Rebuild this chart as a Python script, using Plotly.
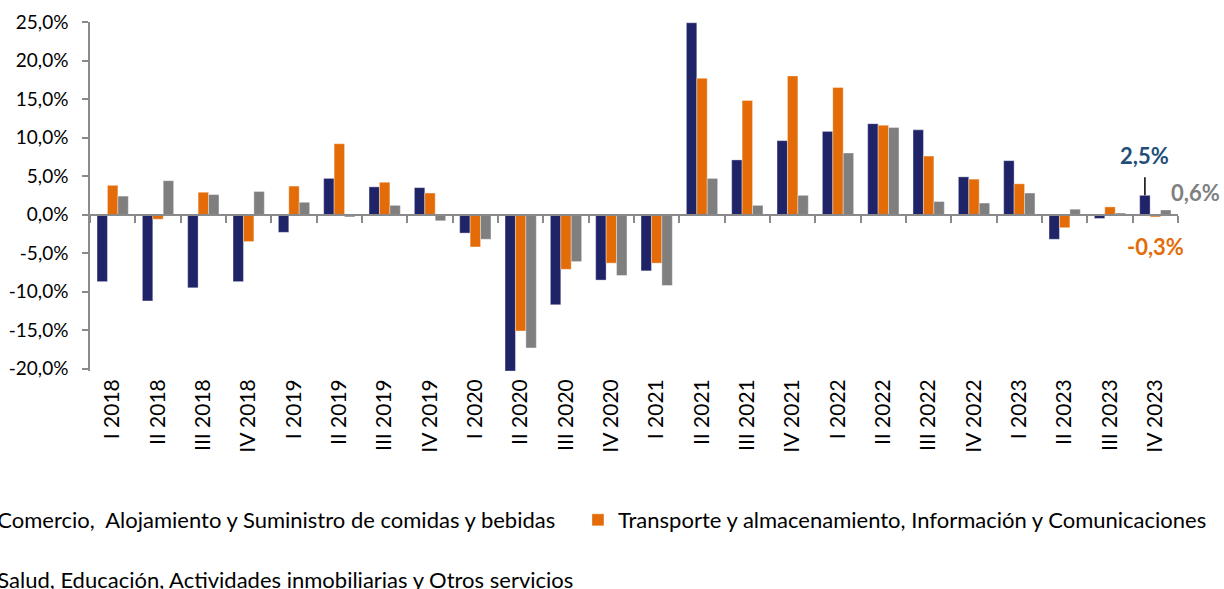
import plotly.graph_objects as go

quarters = ["I 2018", "II 2018", "III 2018", "IV 2018",
            "I 2019", "II 2019", "III 2019", "IV 2019",
            "I 2020", "II 2020", "III 2020", "IV 2020",
            "I 2021", "II 2021", "III 2021", "IV 2021",
            "I 2022", "II 2022", "III 2022", "IV 2022",
            "I 2023", "II 2023", "III 2023", "IV 2023"]

comercio = [-8.7, -11.2, -9.5, -8.7, -2.3, 4.7, 3.6, 3.5,
            -2.4, -20.3, -11.7, -8.5, -7.3, 24.9, 7.1, 9.6,
            10.8, 11.8, 11.0, 4.9, 7.0, -3.2, -0.5, 2.5]
transporte = [3.8, -0.6, 2.9, -3.5, 3.7, 9.2, 4.2, 2.8,
              -4.2, -15.1, -7.1, -6.3, -6.3, 17.7, 14.8, 18.0,
              16.5, 11.6, 7.6, 4.6, 4.0, -1.7, 1.0, -0.3]
salud = [2.4, 4.4, 2.6, 3.0, 1.6, -0.3, 1.2, -0.8,
         -3.2, -17.3, -6.1, -7.9, -9.2, 4.7, 1.2, 2.5,
         8.0, 11.3, 1.7, 1.5, 2.8, 0.7, 0.2, 0.6]

y_ticks = [-20, -15, -10, -5, 0, 5, 10, 15, 20, 25]

names = ["Comercio,  Alojamiento y Suministro de comidas y bebidas",
         "Transporte y almacenamiento, Información y Comunicaciones",
         "Salud, Educación, Actividades inmobiliarias y Otros servicios"]
colors = ["#1F2367", "#E36C09", "#7F7F7F"]
label_colors = ["#1F4E79", "#E36C09", "#7F7F7F"]

FONT = "Lato"
AXIS_COLOR = "#8A8A8A"
BARGAP = 0.31


def pct(v):
    return f"{v:.1f}".replace(".", ",") + "%"


fig = go.Figure()
series = [comercio, transporte, salud]
legend_ids = ["legend", "legend2", "legend3"]
for vals, name, col, lg in zip(series, names, colors, legend_ids):
    fig.add_trace(go.Bar(x=quarters, y=vals, name=name, legend=lg,
                         marker=dict(color=col, line=dict(color="rgba(255,255,255,0.6)", width=0.6))))

ymin, ymax = -20.3, 25
zero_pos = (0 - ymin) / (ymax - ymin)
xrange = [-0.5, len(quarters) - 0.5]

fig.update_layout(
    width=1224, height=589,
    margin=dict(l=90, r=46, t=22, b=218, autoexpand=False),
    plot_bgcolor="white", paper_bgcolor="white",
    barmode="group", bargap=BARGAP, bargroupgap=0,
    font=dict(family=FONT, size=19, color="#000000"),
    xaxis=dict(type="category", categoryarray=quarters, range=xrange, showline=False, ticks="",
               tickangle=-90, tickfont=dict(size=21), showgrid=False,
               ticklabelstandoff=3),
    xaxis2=dict(type="category", categoryarray=quarters, range=xrange, overlaying="x",
                anchor="free", position=zero_pos,
                showline=True, linecolor=AXIS_COLOR, linewidth=2,
                ticks="outside", ticklen=7, tickcolor=AXIS_COLOR, tickwidth=1.5,
                tickson="boundaries", showticklabels=False, showgrid=False),
    yaxis=dict(range=[ymin, ymax], tickvals=y_ticks, ticktext=[pct(v) for v in y_ticks],
               showgrid=False, zeroline=False,
               showline=True, linecolor=AXIS_COLOR, linewidth=1.5,
               ticks="outside", ticklen=6, tickcolor=AXIS_COLOR, tickwidth=1.5,
               tickfont=dict(size=19), ticklabelstandoff=10),
    legend=dict(x=-0.122, y=-0.427, xanchor="left", yanchor="middle",
                font=dict(size=22), bgcolor="rgba(0,0,0,0)"),
    legend2=dict(x=0.4485, y=-0.427, xanchor="left", yanchor="middle",
                 font=dict(size=22), bgcolor="rgba(0,0,0,0)"),
    legend3=dict(x=-0.122, y=-0.599, xanchor="left", yanchor="middle",
                 font=dict(size=22), bgcolor="rgba(0,0,0,0)"),
    showlegend=True,
)

# transparent helper trace so the zero-line axis has the categories
fig.add_trace(go.Bar(x=quarters, y=[0] * len(quarters), xaxis="x2", showlegend=False,
                     hoverinfo="skip", marker=dict(color="rgba(0,0,0,0)")))

# data labels for last quarter
last = len(quarters) - 1
off = (1 - BARGAP) / 3
fig.add_annotation(x=last - off, y=comercio[-1], xref="x", yref="y",
                   text="<b>%s</b>" % pct(comercio[-1]),
                   font=dict(size=22, color=label_colors[0], family=FONT),
                   showarrow=True, arrowhead=0, arrowwidth=1.5, arrowcolor="#000000",
                   ax=0, ay=-40, startstandoff=7)
fig.add_annotation(x=last + off, y=salud[-1], xref="x", yref="y",
                   text="<b>%s</b>" % pct(salud[-1]),
                   font=dict(size=22, color=label_colors[2], family=FONT),
                   showarrow=False, xanchor="left", xshift=3, yshift=17)
fig.add_annotation(x=last, y=transporte[-1], xref="x", yref="y",
                   text="<b>%s</b>" % pct(transporte[-1]),
                   font=dict(size=22, color=label_colors[1], family=FONT),
                   showarrow=False, yshift=-30)

fig.write_html("out.html", config={"displayModeBar": False},
               post_script="document.body.style.margin='0';document.body.style.overflow='hidden';")
